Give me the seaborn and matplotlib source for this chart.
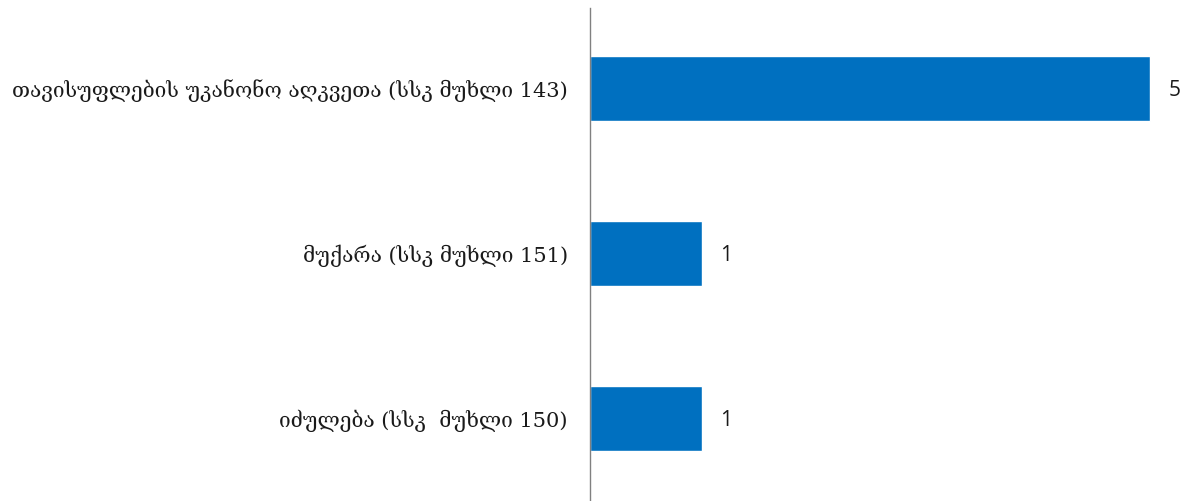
import matplotlib
matplotlib.use("Agg")
import matplotlib.pyplot as plt
import seaborn as sns
import pandas as pd

categories = [
    "თავისუფლების უკანონო აღკვეთა (სსკ მუხლი 143)",
    "მუქარა (სსკ მუხლი 151)",
    "იძულება (სსკ  მუხლი 150)",
]
values = [5, 1, 1]

df = pd.DataFrame({"cat": categories, "val": values})

sns.set_style("white")
fig = plt.figure(figsize=(11.84, 5.01), dpi=100)
ax = fig.add_axes([590/1184, 0, 1 - 590/1184, 493/501])

sns.barplot(data=df, x="val", y="cat", color="#0070C0", saturation=1,
            width=65/165, ax=ax, orient="h")

ax.set_xlim(0, 5.3)
ax.set_ylim(2.5, -0.488)
ax.set_xlabel("")
ax.set_ylabel("")
ax.set_xticks([])
for s in ["top", "right", "bottom"]:
    ax.spines[s].set_visible(False)
ax.spines["left"].set_color("#808080")
ax.spines["left"].set_linewidth(1.0)
ax.tick_params(axis="y", length=0, pad=16)
for lab in ax.get_yticklabels():
    lab.set_fontfamily("DejaVu Serif")
    lab.set_fontsize(15)
    lab.set_color("#1a1a1a")

for i, v in enumerate(values):
    ax.text(v + 0.16, i + 0.012, str(v), va="center", ha="left",
            fontsize=15, family="Open Sans", color="#1a1a1a")

fig.savefig("out.png", dpi=100)
